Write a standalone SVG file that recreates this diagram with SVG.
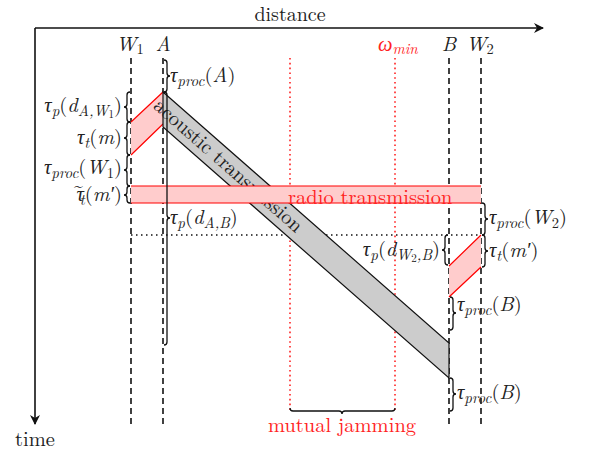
<svg xmlns="http://www.w3.org/2000/svg" width="589" height="453" viewBox="0 0 589 453">
<style>
text{font-family:"Latin Modern Roman","CMU Serif","Liberation Serif","Times New Roman",Tinos,"Noto Serif","DejaVu Serif",FreeSerif,Times,serif;fill:#222}
.lbl{font-size:20.5px;font-style:italic}
.tau{font-size:20.5px}
.it{font-style:italic}
.sub{font-size:15px;font-style:italic}
.red{fill:#f22}
.dash{stroke:#111;stroke-width:1.6;stroke-dasharray:6 4;fill:none}
.rdot{stroke:#f22;stroke-width:1.6;stroke-dasharray:1.6 3.2;fill:none}
.kdot{stroke:#111;stroke-width:1.5;stroke-dasharray:1.5 3.5;fill:none}
.brace{stroke:#111;stroke-width:1.3;fill:none}
.pink{fill:#ffcccc;stroke:none}
.rline{stroke:#f00;stroke-width:1.2;fill:none}
</style>
<defs>
<marker id="arr" viewBox="0 0 10 10" refX="9" refY="5" markerWidth="10" markerHeight="10" markerUnits="userSpaceOnUse" orient="auto">
<path d="M0,0 L10,5 L0,10 L3,5 Z" fill="#111"/>
</marker>
</defs>
<g id="axes">
<path d="M35,28 V424" stroke="#111" stroke-width="1.6" fill="none" marker-end="url(#arr)"/>
<path d="M35,28 H543" stroke="#111" stroke-width="1.6" fill="none" marker-end="url(#arr)"/>
<text x="290" y="21" font-size="20" text-anchor="middle">distance</text>
<text x="35" y="446" font-size="20.5" text-anchor="middle">time</text>
</g>
<g id="lines">
<path class="dash" d="M131,58 V425"/>
<path class="dash" d="M163,58 V425"/>
<path class="dash" d="M449,58 V425"/>
<path class="dash" d="M481,58 V425"/>
<path class="rdot" d="M290,58 V410"/>
<path class="rdot" d="M395,58 V410"/>
<path class="kdot" d="M131,235 H481"/>
</g>
<g id="node-labels">
<text class="lbl" x="116" y="51">W<tspan font-size="14.5" font-style="normal" dy="3">1</tspan></text>
<text class="lbl" x="163" y="51" text-anchor="middle">A</text>
<text class="lbl red" x="378" y="51">ω<tspan class="sub" dy="3">min</tspan></text>
<text class="lbl" x="449" y="51" text-anchor="middle">B</text>
<text class="lbl" x="466" y="51">W<tspan font-size="14.5" font-style="normal" dy="3">2</tspan></text>
</g>
<g id="msg-m">
<polygon class="pink" points="131,122 163,92 163,124 131,155"/>
<path class="rline" d="M131,122 L163,92 M131,155 L163,124"/>
</g>
<g id="acoustic">
<polygon points="163,92 449,343 449,378 163,127" fill="#cccccc" stroke="#111" stroke-width="1.2"/>
<text transform="translate(228,166) rotate(41.27)" text-anchor="middle" dy="6" font-size="20.5">acoustic transmission</text>
</g>
<g id="radio">
<rect class="pink" x="131" y="186" width="350" height="17"/>
<path class="rline" d="M131,186 H481 M131,203 H481"/>
<text class="red" x="288" y="204" font-size="20.5">radio transmission</text>
</g>
<g id="msg-m2">
<polygon class="pink" points="449,266 481,235 481,267 449,297"/>
<path class="rline" d="M449,266 L481,235 M449,297 L481,267"/>
</g>
<g id="braces">
<path class="brace" d="M164,60 q3,0 3,3 V73 q0,3 3,3 q-3,0 -3,3 V89 q0,3 -3,3"/>
<path class="brace" d="M164,92 q3,0 3,3 V215 q0,3 3,3 q-3,0 -3,3 V342 q0,3 -3,3"/>
<path class="brace" d="M130,92 q-3,0 -3,3 V104 q0,3 -3,3 q3,0 3,3 V119 q0,3 3,3"/>
<path class="brace" d="M130,122 q-3,0 -3,3 V135 q0,3 -3,3 q3,0 3,3 V152 q0,3 3,3"/>
<path class="brace" d="M130,155 q-3,0 -3,3 V167 q0,3 -3,3 q3,0 3,3 V183 q0,3 3,3"/>
<path class="brace" d="M130,186 q-3,0 -3,3 V192 q0,3 -3,3 q3,0 3,3 V200 q0,3 3,3"/>
<path class="brace" d="M482,203 q3,0 3,3 V216 q0,3 3,3 q-3,0 -3,3 V232 q0,3 -3,3"/>
<path class="brace" d="M482,235 q3,0 3,3 V248 q0,3 3,3 q-3,0 -3,3 V264 q0,3 -3,3"/>
<path class="brace" d="M448,235 q-3,0 -3,3 V247 q0,3 -3,3 q3,0 3,3 V262 q0,3 3,3"/>
<path class="brace" d="M450,297 q3,0 3,3 V310 q0,3 3,3 q-3,0 -3,3 V327 q0,3 -3,3"/>
<path class="brace" d="M450,378 q3,0 3,3 V391 q0,3 3,3 q-3,0 -3,3 V408 q0,3 -3,3"/>
<path class="brace" d="M290,408 q0,3 3,3 H339 q3,0 3,3 q0,-3 3,-3 H392 q3,0 3,-3"/>
</g>
<g id="brace-labels" class="tau">
<text x="170" y="82"><tspan class="it">τ</tspan><tspan class="sub" dy="4">proc</tspan><tspan dy="-4">(</tspan><tspan class="it">A</tspan>)</text>
<text x="170" y="224"><tspan class="it">τ</tspan><tspan class="sub" dy="4">p</tspan><tspan dy="-4">(</tspan><tspan class="it">d</tspan><tspan class="sub" dy="4">A,B</tspan><tspan dy="-4">)</tspan></text>
<text x="122" y="112" text-anchor="end"><tspan class="it">τ</tspan><tspan class="sub" dy="4">p</tspan><tspan dy="-4">(</tspan><tspan class="it">d</tspan><tspan class="sub" dy="4">A,W</tspan><tspan font-size="11" dy="2">1</tspan><tspan dy="-6">)</tspan></text>
<text x="122" y="144" text-anchor="end"><tspan class="it">τ</tspan><tspan class="sub" dy="4">t</tspan><tspan dy="-4">(</tspan><tspan class="it">m</tspan>)</text>
<text x="122" y="174" text-anchor="end"><tspan class="it">τ</tspan><tspan class="sub" dy="4">proc</tspan><tspan dy="-4">(</tspan><tspan class="it">W</tspan><tspan font-size="14.5" dy="4">1</tspan><tspan dy="-4">)</tspan></text>
<text x="122" y="201" text-anchor="end"><tspan class="it">τ</tspan><tspan dx="-10" dy="-10" font-size="16">~</tspan><tspan class="sub" dx="-3" dy="14">t</tspan><tspan dy="-4">(</tspan><tspan class="it">m′</tspan>)</text>
<text x="489" y="224"><tspan class="it">τ</tspan><tspan class="sub" dy="4">proc</tspan><tspan dy="-4">(</tspan><tspan class="it">W</tspan><tspan font-size="14.5" dy="4">2</tspan><tspan dy="-4">)</tspan></text>
<text x="489" y="257"><tspan class="it">τ</tspan><tspan class="sub" dy="4">t</tspan><tspan dy="-4">(</tspan><tspan class="it">m′</tspan>)</text>
<text x="440" y="256" text-anchor="end"><tspan class="it">τ</tspan><tspan class="sub" dy="4">p</tspan><tspan dy="-4">(</tspan><tspan class="it">d</tspan><tspan class="sub" dy="4">W</tspan><tspan font-size="11" dy="2">2</tspan><tspan class="sub" dy="-2">,B</tspan><tspan dy="-4">)</tspan></text>
<text x="457" y="311"><tspan class="it">τ</tspan><tspan class="sub" dy="4">proc</tspan><tspan dy="-4">(</tspan><tspan class="it">B</tspan>)</text>
<text x="457" y="399"><tspan class="it">τ</tspan><tspan class="sub" dy="4">proc</tspan><tspan dy="-4">(</tspan><tspan class="it">B</tspan>)</text>
<text class="red" x="342" y="432" font-size="20.5" text-anchor="middle">mutual jamming</text>
</g>
</svg>
